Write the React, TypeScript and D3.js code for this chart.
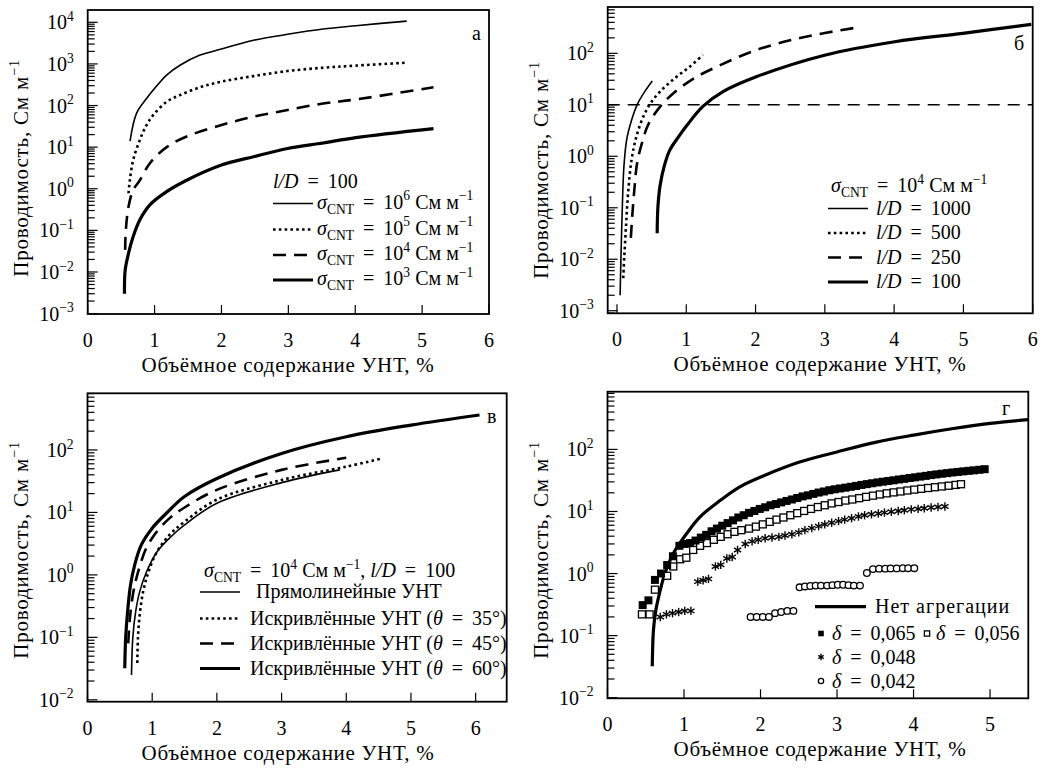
import React from "react";
import * as d3 from "d3";

const FONT = "'Liberation Serif', 'Times New Roman', serif";
const FS = 20;

// ---------- Panel а : l/D = 100, different sigma_CNT ----------
const aX_s6 = [0.633, 0.73, 0.88, 0.98, 1.18, 1.38, 1.68, 2.0, 2.48, 2.99, 3.52, 4.01, 4.77];
const aY_s6 = [14, 65, 147, 235, 540, 930, 1630, 2280, 3700, 5150, 6900, 8300, 10700];
const aX_s5 = [0.61, 0.63, 0.68, 0.78, 0.88, 0.98, 1.18, 1.38, 1.68, 2.0, 2.48, 2.99, 3.52, 4.01, 4.77];
const aY_s5 = [0.78, 1.6, 4.9, 15, 34, 59, 123, 178, 275, 375, 510, 675, 810, 910, 1070];
const aX_s4 = [0.56, 0.57, 0.61, 0.68, 0.78, 0.93, 1.18, 1.48, 2.0, 2.48, 2.99, 3.52, 4.01, 5.17];
const aY_s4 = [0.034, 0.1, 0.37, 0.93, 1.6, 4.1, 10, 18, 34, 54, 78, 112, 140, 275];
const aX_s3 = [0.55, 0.56, 0.61, 0.68, 0.78, 0.93, 1.18, 1.48, 2.0, 2.48, 2.99, 3.52, 4.01, 5.17];
const aY_s3 = [0.003, 0.011, 0.028, 0.071, 0.18, 0.41, 0.85, 1.6, 3.7, 5.9, 9.3, 12.6, 17, 28];

// ---------- Panel б : sigma = 1e4, different l/D ----------
const bX_1000 = [0.045, 0.06, 0.08, 0.1, 0.14, 0.21, 0.29, 0.4, 0.51];
const bY_1000 = [0.002, 0.015, 0.14, 0.63, 2.1, 5.0, 10, 18, 29];
const bX_500 = [0.09, 0.105, 0.13, 0.16, 0.21, 0.28, 0.38, 0.5, 0.67, 0.86, 1.05, 1.24];
const bY_500 = [0.0043, 0.011, 0.043, 0.19, 0.85, 2.4, 5.9, 11.5, 21, 35, 55, 93];
const bX_250 = [0.2, 0.22, 0.25, 0.29, 0.36, 0.45, 0.62, 0.81, 1.1, 1.49, 2.01, 2.69, 3.48];
const bY_250 = [0.026, 0.068, 0.22, 0.73, 1.8, 4.1, 9.1, 16.6, 32, 59, 116, 205, 320];
const bX_100 = [0.58, 0.59, 0.62, 0.68, 0.76, 0.88, 1.01, 1.24, 1.53, 2.01, 3.01, 4.01, 4.99, 5.98];
const bY_100 = [0.032, 0.1, 0.26, 0.63, 1.3, 2.3, 4.0, 9.3, 18, 35, 93, 168, 245, 365];
const bThreshold = 10;

// ---------- Panel в : straight vs wavy CNT ----------
const vX_str = [0.68, 0.7, 0.745, 0.807, 0.91, 1.07, 1.27, 1.5, 2.0, 3.0, 3.9];
const vY_str = [0.025, 0.098, 0.26, 0.54, 1.1, 2.3, 3.9, 6.3, 14, 30, 48];
const vX_35 = [0.77, 0.78, 0.807, 0.86, 0.94, 1.07, 1.27, 1.5, 2.0, 3.0, 4.0, 4.55];
const vY_35 = [0.039, 0.098, 0.23, 0.54, 1.1, 2.3, 4.4, 7.1, 16, 33, 54, 73];
const vX_45 = [0.63, 0.655, 0.71, 0.78, 0.91, 1.07, 1.27, 1.5, 2.0, 3.0, 4.0];
const vY_45 = [0.08, 0.2, 0.54, 1.1, 2.7, 4.9, 8.1, 12, 23, 48, 75];
const vX_60 = [0.576, 0.59, 0.62, 0.665, 0.73, 0.83, 1.0, 1.22, 1.5, 2.0, 3.0, 4.0, 5.0, 6.06];
const vY_60 = [0.032, 0.098, 0.26, 0.69, 1.45, 3.0, 5.6, 9.7, 18, 35, 88, 163, 250, 363];

// ---------- Panel г : aggregation ----------
const gX_none = [0.585, 0.59, 0.6, 0.63, 0.67, 0.75, 0.86, 1.04, 1.21, 1.47, 1.73, 2.05, 2.5, 3.0, 3.5, 4.0, 4.5, 5.0, 5.5];
const gY_none = [0.032, 0.06, 0.12, 0.25, 0.43, 1.0, 2.1, 4.5, 8.2, 15, 25, 38, 62, 91, 130, 170, 215, 262, 302];

const gX_065 = [0.46, 0.535, 0.62, 0.7, 0.78, 0.855, 0.94, 1.01, 1.08, 1.15, 1.22, 1.29, 1.36, 1.43, 1.5, 1.57, 1.64, 1.71, 1.78, 1.85, 1.92, 1.99, 2.06, 2.13, 2.2, 2.27, 2.34, 2.41, 2.48, 2.55, 2.62, 2.69, 2.76, 2.83, 2.9, 2.97, 3.04, 3.11, 3.18, 3.25, 3.32, 3.39, 3.46, 3.53, 3.6, 3.67, 3.74, 3.81, 3.88, 3.95, 4.02, 4.09, 4.16, 4.23, 4.3, 4.37, 4.44, 4.51, 4.58, 4.65, 4.72, 4.79, 4.86, 4.93];
const gY_065 = [0.31, 0.37, 0.79, 1.0, 1.37, 1.9, 2.8, 3.0, 3.1, 3.4, 3.8, 4.2, 4.8, 5.3, 5.9, 6.5, 7.2, 8.0, 8.7, 9.5, 10.2, 11.0, 11.7, 12.6, 13.2, 14.0, 14.8, 15.6, 16.5, 17.5, 18.2, 19.2, 20.2, 21.0, 22.0, 22.8, 23.5, 24.2, 25.0, 25.8, 26.8, 27.6, 28.5, 29.4, 30.2, 31.0, 31.8, 32.8, 33.6, 34.6, 35.5, 36.5, 37.5, 38.6, 39.6, 40.6, 41.5, 42.5, 43.4, 44.3, 45.2, 46.0, 47.0, 48.0];

const gX_056 = [0.45, 0.55, 0.62, 0.78, 0.86, 0.95, 1.03, 1.12, 1.21, 1.3, 1.39, 1.48, 1.57, 1.66, 1.75, 1.85, 1.94, 2.03, 2.12, 2.21, 2.3, 2.39, 2.48, 2.57, 2.66, 2.75, 2.84, 2.93, 3.02, 3.11, 3.2, 3.29, 3.38, 3.47, 3.56, 3.65, 3.74, 3.83, 3.92, 4.01, 4.1, 4.19, 4.28, 4.37, 4.46, 4.55, 4.62];
const gY_056 = [0.22, 0.22, 0.55, 0.92, 1.3, 1.7, 1.8, 2.4, 2.8, 3.1, 3.5, 3.9, 4.3, 4.7, 5.0, 5.3, 5.7, 6.2, 6.8, 7.4, 8.0, 8.7, 9.4, 10.2, 11.0, 11.8, 12.6, 13.5, 14.2, 15.0, 15.6, 16.4, 17.2, 18.0, 18.8, 19.6, 20.3, 21.0, 21.8, 22.5, 23.2, 23.9, 24.6, 25.3, 26.0, 26.8, 27.5];

const gX_048 = [0.69, 0.77, 0.85, 0.93, 1.01, 1.09, 1.18, 1.25, 1.32, 1.41, 1.48, 1.56, 1.63, 1.7, 1.8, 1.89, 1.97, 2.06, 2.15, 2.24, 2.32, 2.41, 2.5, 2.58, 2.67, 2.76, 2.84, 2.93, 3.02, 3.1, 3.19, 3.28, 3.36, 3.45, 3.54, 3.62, 3.71, 3.8, 3.88, 3.97, 4.06, 4.14, 4.23, 4.32, 4.41];
const gY_048 = [0.2, 0.22, 0.23, 0.24, 0.25, 0.25, 0.74, 0.78, 0.82, 1.3, 1.38, 1.75, 1.85, 2.4, 3.0, 3.3, 3.5, 3.7, 3.8, 3.9, 4.1, 4.3, 4.6, 5.0, 5.4, 5.8, 6.2, 6.6, 7.0, 7.4, 7.8, 8.3, 8.7, 9.0, 9.3, 9.6, 9.9, 10.2, 10.5, 10.8, 11.0, 11.3, 11.6, 11.8, 12.0];

const gX_042 = [1.87, 1.95, 2.03, 2.11, 2.19, 2.27, 2.35, 2.43, 2.51, 2.58, 2.65, 2.72, 2.79, 2.87, 2.94, 3.01, 3.08, 3.15, 3.22, 3.3, 3.39, 3.47, 3.55, 3.63, 3.7, 3.78, 3.86, 3.93, 4.01];
const gY_042 = [0.2, 0.2, 0.2, 0.2, 0.23, 0.24, 0.25, 0.25, 0.6, 0.62, 0.63, 0.64, 0.64, 0.64, 0.65, 0.66, 0.66, 0.65, 0.64, 0.64, 1.02, 1.18, 1.2, 1.2, 1.21, 1.21, 1.22, 1.22, 1.22];

// ---------- tick values ----------
const xTicks6 = [0, 1, 2, 3, 4, 5, 6];
const xTicks5 = [0, 1, 2, 3, 4, 5];
const yDecA = [-3, -2, -1, 0, 1, 2, 3, 4];
const yDecB = [-3, -2, -1, 0, 1, 2];
const yDecVG = [-2, -1, 0, 1, 2];

type Seg = [string, string?];
const EQ = " \u2009=\u2009 ";

function Rich({ x, y, segs, size = FS, anchor = "start", transform, ls }: any) {
  let cur = 0;
  const small = size * 0.68;
  return (
    <text
      x={x}
      y={y}
      fontSize={size}
      textAnchor={anchor}
      transform={transform}
      letterSpacing={ls}
      style={{ whiteSpace: "pre", fontFamily: FONT }}
    >
      {(segs as Seg[]).map(([t, s = ""], i) => {
        const off = s === "sub" ? size * 0.25 : s === "sup" ? -size * 0.42 : 0;
        const dy = off - cur;
        cur = off;
        return (
          <tspan key={i} dy={dy !== 0 ? dy : undefined} fontSize={off !== 0 ? small : undefined} fontStyle={s === "i" ? "italic" : undefined}>
            {t}
          </tspan>
        );
      })}
    </text>
  );
}

const styleOf = (s: string): any =>
  s === "thin"
    ? { strokeWidth: 1.6 }
    : s === "thick"
    ? { strokeWidth: 3.2 }
    : s === "dot"
    ? { strokeWidth: 2.6, strokeDasharray: "2.6 3.2" }
    : s === "hdash"
    ? { strokeWidth: 1.4, strokeDasharray: "12 8" }
    : { strokeWidth: 2.6, strokeDasharray: "13 8" };

const sup = (e: number) => String(e).replace("-", "\u2212");

function Asterisk({ cx, cy, r = 4 }: any) {
  const arms = [90, 30, 150].map((a) => {
    const rad = (a * Math.PI) / 180;
    return [Math.cos(rad) * r, Math.sin(rad) * r];
  });
  return (
    <g stroke="#000" strokeWidth={1.4}>
      {arms.map(([dx, dy], i) => (
        <line key={i} x1={cx - dx} y1={cy - dy} x2={cx + dx} y2={cy + dy} />
      ))}
    </g>
  );
}

function Marker({ kind, cx, cy, s = 1 }: any) {
  if (kind === "fsq") return <rect x={cx - 4 * s} y={cy - 4 * s} width={8 * s} height={8 * s} fill="#000" />;
  if (kind === "osq")
    return <rect x={cx - 3.5 * s} y={cy - 3.5 * s} width={7 * s} height={7 * s} fill="#fff" stroke="#000" strokeWidth={1.3} />;
  if (kind === "ast") return <Asterisk cx={cx} cy={cy} r={4.2 * s} />;
  return <circle cx={cx} cy={cy} r={3.3 * s} fill="#fff" stroke="#000" strokeWidth={1.3} />;
}

function Panel({ p }: any) {
  const { box, xDom, yLo, yHi } = p;
  const x = d3.scaleLinear().domain(xDom).range([box.l, box.r]);
  const y = d3.scaleLog().domain([Math.pow(10, yLo), Math.pow(10, yHi)]).range([box.b, box.t]);
  const minor: number[] = [];
  for (let e = Math.floor(yLo); e <= Math.ceil(yHi); e++) {
    for (let m = 2; m <= 9; m++) {
      const v = m * Math.pow(10, e);
      const lv = Math.log10(v);
      if (lv > yLo && lv < yHi) minor.push(v);
    }
  }
  const line = d3
    .line<[number, number]>()
    .x((d) => x(d[0]))
    .y((d) => y(d[1]))
    .curve(d3.curveCatmullRom.alpha(0.5));
  return (
    <g>
      <defs>
        <clipPath id={"clip" + p.id}>
          <rect x={box.l} y={box.t} width={box.r - box.l} height={box.b - box.t} />
        </clipPath>
      </defs>
      <g stroke="#000" strokeWidth={1.2}>
        {p.yDec.map((e: number) => (
          <line key={"M" + e} x1={box.l} x2={box.l + 10} y1={y(Math.pow(10, e))} y2={y(Math.pow(10, e))} />
        ))}
        {minor.map((v, i) => (
          <line key={"m" + i} x1={box.l} x2={box.l + 7} y1={y(v)} y2={y(v)} />
        ))}
        {p.xTicks.map((t: number) => (
          <line key={"x" + t} x1={x(t)} x2={x(t)} y1={box.b} y2={box.b - 9} />
        ))}
      </g>
      {p.yDec.map((e: number) => (
        <Rich key={"yl" + e} x={box.l - 14} y={y(Math.pow(10, e)) + 7} anchor="end" segs={[["10"], [sup(e), "sup"]]} />
      ))}
      {p.xTicks.map((t: number) => (
        <Rich key={"xl" + t} x={x(t)} y={box.b + 33} anchor="middle" segs={[[String(t)]]} />
      ))}
      <g clipPath={`url(#clip${p.id})`} fill="none" stroke="#000">
        {p.hline !== undefined && <line x1={box.l} x2={box.r} y1={y(p.hline)} y2={y(p.hline)} {...styleOf("hdash")} />}
        {p.lines.map((s: any, i: number) => (
          <path key={i} d={line(s.xs.map((v: number, j: number) => [v, s.ys[j]])) || ""} {...styleOf(s.style)} />
        ))}
      </g>
      {(p.markers || []).map((m: any, i: number) => (
        <g key={"mk" + i}>
          {m.xs.map((v: number, j: number) => (
            <Marker key={j} kind={m.kind} cx={x(v)} cy={y(m.ys[j])} />
          ))}
        </g>
      ))}
      <rect x={box.l} y={box.t} width={box.r - box.l} height={box.b - box.t} fill="none" stroke="#000" strokeWidth={1.8} />
      <Rich x={p.xTitleC} y={box.b + 58} size={21} ls={0.7} anchor="middle" segs={[["Объёмное содержание УНТ, %"]]} />
      <Rich
        x={box.l - 60}
        y={p.yTitleC}
        size={21}
        ls={0.8}
        anchor="middle"
        transform={`rotate(-90, ${box.l - 60}, ${p.yTitleC})`}
        segs={[["Проводимость, См м"], ["\u22121", "sup"]]}
      />
      <Rich x={p.label[0]} y={p.label[1]} segs={[[p.label[2]]]} />
    </g>
  );
}

function LegLine({ x1, x2, y, style }: any) {
  return <line x1={x1} x2={x2} y1={y} y2={y} stroke="#000" {...styleOf(style)} />;
}

const sigmaSegs = (e: string): Seg[] => [["σ", "i"], ["CNT", "sub"], [EQ + "10"], [e, "sup"], [" См м"], ["\u22121", "sup"]];

export default function App() {
  const panels = [
    {
      id: "a",
      box: { l: 87.7, r: 489, t: 10, b: 314 },
      xDom: [0, 6],
      yLo: -3.01,
      yHi: 4.296,
      xTicks: xTicks6,
      yDec: yDecA,
      xTitleC: 288,
      yTitleC: 168,
      label: [472, 40, "а"],
      lines: [
        { xs: aX_s6, ys: aY_s6, style: "thin" },
        { xs: aX_s5, ys: aY_s5, style: "dot" },
        { xs: aX_s4, ys: aY_s4, style: "dash" },
        { xs: aX_s3, ys: aY_s3, style: "thick" },
      ],
    },
    {
      id: "b",
      box: { l: 607.7, r: 1032.7, t: 7, b: 313.3 },
      xDom: [-0.134, 6],
      yLo: -3.05,
      yHi: 2.9,
      xTicks: xTicks6,
      yDec: yDecB,
      xTitleC: 820,
      yTitleC: 170,
      label: [1014, 50, "б"],
      hline: bThreshold,
      lines: [
        { xs: bX_1000, ys: bY_1000, style: "thin" },
        { xs: bX_500, ys: bY_500, style: "dot" },
        { xs: bX_250, ys: bY_250, style: "dash" },
        { xs: bX_100, ys: bY_100, style: "thick" },
      ],
    },
    {
      id: "v",
      box: { l: 87.5, r: 506.7, t: 393.3, b: 701.7 },
      xDom: [0, 6.48],
      yLo: -2.03,
      yHi: 2.907,
      xTicks: xTicks6,
      yDec: yDecVG,
      xTitleC: 288,
      yTitleC: 550,
      label: [487, 423, "в"],
      lines: [
        { xs: vX_str, ys: vY_str, style: "thin" },
        { xs: vX_35, ys: vY_35, style: "dot" },
        { xs: vX_45, ys: vY_45, style: "dash" },
        { xs: vX_60, ys: vY_60, style: "thick" },
      ],
    },
    {
      id: "g",
      box: { l: 607.5, r: 1028.3, t: 391.7, b: 698.3 },
      xDom: [0, 5.5],
      yLo: -2.01,
      yHi: 2.93,
      xTicks: xTicks5,
      yDec: yDecVG,
      xTitleC: 820,
      yTitleC: 550,
      label: [1002, 415, "г"],
      lines: [{ xs: gX_none, ys: gY_none, style: "thick" }],
      markers: [
        { xs: gX_048, ys: gY_048, kind: "ast" },
        { xs: gX_042, ys: gY_042, kind: "circ" },
        { xs: gX_056, ys: gY_056, kind: "osq" },
        { xs: gX_065, ys: gY_065, kind: "fsq" },
      ],
    },
  ];

  const legA = ["6", "5", "4", "3"];
  const styles = ["thin", "dot", "dash", "thick"];
  const rowsA = [203.5, 229.5, 255, 280];
  const legB = ["1000", "500", "250", "100"];
  const rowsB = [208.5, 233, 257.5, 282];
  const legV = ["Прямолинейные УНТ", "Искривлённые УНТ (", "Искривлённые УНТ (", "Искривлённые УНТ ("];
  const angV = ["", "35", "45", "60"];
  const rowsV = [592, 618.5, 643.5, 668.5];

  return (
    <svg width={1040} height={769} style={{ display: "block", position: "absolute", left: 0, top: 0, background: "#fff", fontFamily: FONT }}>
      <rect width={1040} height={769} fill="#fff" />
      {panels.map((p) => (
        <Panel key={p.id} p={p} />
      ))}

      <Rich x={273} y={188} segs={[["l/D", "i"], [EQ + "100"]]} />
      {legA.map((e, i) => (
        <g key={"la" + i}>
          <LegLine x1={273} x2={313} y={rowsA[i]} style={styles[i]} />
          <Rich x={317} y={rowsA[i] + 5} segs={sigmaSegs(e)} />
        </g>
      ))}

      <Rich x={831} y={192} segs={sigmaSegs("4")} />
      {legB.map((e, i) => (
        <g key={"lb" + i}>
          <LegLine x1={828} x2={868} y={rowsB[i]} style={styles[i]} />
          <Rich x={876} y={rowsB[i] + 6} segs={[["l/D", "i"], [EQ + e]]} />
        </g>
      ))}

      <Rich x={204} y={577} segs={[...sigmaSegs("4"), [", "], ["l/D", "i"], [EQ + "100"]]} />
      {legV.map((t, i) => (
        <g key={"lv" + i}>
          <LegLine x1={200} x2={240} y={rowsV[i]} style={styles[i]} />
          {i === 0 ? (
            <Rich x={256} y={rowsV[i] + 6} segs={[[t]]} />
          ) : (
            <Rich x={250} y={rowsV[i] + 6} segs={[[t], ["θ", "i"], [EQ + angV[i] + "°)"]]} />
          )}
        </g>
      ))}

      <LegLine x1={815} x2={866} y={606.7} style="thick" />
      <Rich x={875} y={613} ls={1} segs={[["Нет агрегации"]]} />
      <Marker kind="fsq" cx={821} cy={633.5} s={0.7} />
      <Rich x={832} y={640} segs={[["δ", "i"], [EQ + "0,065"]]} />
      <Marker kind="osq" cx={927} cy={633.5} s={0.75} />
      <Rich x={936} y={640} segs={[["δ", "i"], [EQ + "0,056"]]} />
      <Marker kind="ast" cx={821} cy={657} s={0.75} />
      <Rich x={832} y={664} segs={[["δ", "i"], [EQ + "0,048"]]} />
      <Marker kind="circ" cx={821} cy={681} s={0.8} />
      <Rich x={832} y={688} segs={[["δ", "i"], [EQ + "0,042"]]} />
    </svg>
  );
}
